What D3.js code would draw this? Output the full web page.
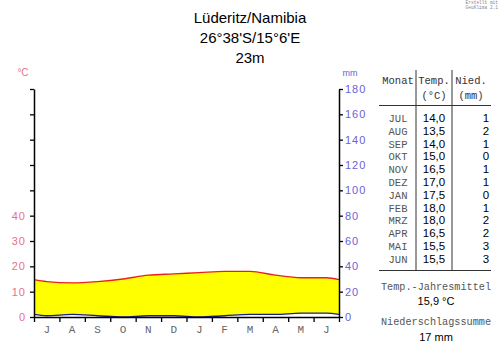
<!DOCTYPE html>
<html>
<head>
<meta charset="utf-8">
<script src="https://cdn.jsdelivr.net/npm/d3@7"></script>
<style>
  html, body { margin: 0; padding: 0; background: #fff; }
  svg { display: block; }
</style>
</head>
<body>
<svg id="chart" width="500" height="348"></svg>
<script>
// Klimadiagramm Lüderitz / Namibia
const months = ["JUL","AUG","SEP","OKT","NOV","DEZ","JAN","FEB","MRZ","APR","MAI","JUN"];
const monthInitials = ["J","A","S","O","N","D","J","F","M","A","M","J"];
const temperature = [14.0, 13.5, 14.0, 15.0, 16.5, 17.0, 17.5, 18.0, 18.0, 16.5, 15.5, 15.5];
const precipitation = [1, 2, 1, 0, 1, 1, 0, 1, 2, 2, 3, 3];
const tempTicks = [0, 10, 20, 30, 40, 50, 60, 70, 80, 90];
const tempTickLabels = [0, 10, 20, 30, 40];
const precipTicks = [0, 20, 40, 60, 80, 100, 120, 140, 160, 180];
const titleLines = ["Lüderitz/Namibia", "26°38'S/15°6'E", "23m"];
const annualMeanTemp = "15,9 °C";
const annualPrecip = "17 mm";

const fmt = v => v.toFixed(1).replace(".", ",");

const svg = d3.select("#chart");
const mono = "'Liberation Mono', 'DejaVu Sans Mono', monospace";
const sans = "'Liberation Sans', Arial, sans-serif";
const red = "#e8231c", pink = "#e8708a", blue = "#6a62d8", navy = "#1c1c8c";

const plotLeft = 34, plotRight = 339, plotTop = 89, plotBottom = 317;
const x = d3.scaleLinear().domain([0, 12]).range([plotLeft, plotRight]);
const yT = d3.scaleLinear().domain([0, 90]).range([plotBottom, plotTop]);
const yP = d3.scaleLinear().domain([0, 180]).range([plotBottom, plotTop]);

// Title
svg.append("g").selectAll("text").data(titleLines).join("text")
  .attr("x", 250).attr("y", (d, i) => 23 + i * 20)
  .attr("text-anchor", "middle")
  .attr("font-family", sans).attr("font-size", 15).attr("fill", "#000")
  .text(d => d);

// Small credit in corner
svg.append("g").selectAll("text").data(["Erstellt mit", "GeoKlima 2.1"]).join("text")
  .attr("x", 498).attr("y", (d, i) => 4 + i * 4.5)
  .attr("text-anchor", "end")
  .attr("font-family", mono).attr("font-size", 4.5).attr("fill", "#888")
  .text(d => d);

// Curves: monthly values at mid-months, edges closed with the Jun/Jul mean
function periodic(values) {
  const edge = (values[0] + values[values.length - 1]) / 2;
  return [[0, edge], ...values.map((v, i) => [i + 0.5, v]), [12, edge]];
}
const tPts = periodic(temperature);
const pPts = periodic(precipitation);

const area = d3.area()
  .curve(d3.curveMonotoneX)
  .x((d, i) => x(tPts[i][0]))
  .y0((d, i) => yP(pPts[i][1]))
  .y1((d, i) => yT(tPts[i][1]));
svg.append("path").datum(tPts).attr("d", area).attr("fill", "#ffff00");

const lineT = d3.line().curve(d3.curveMonotoneX).x(d => x(d[0])).y(d => yT(d[1]));
const lineP = d3.line().curve(d3.curveMonotoneX).x(d => x(d[0])).y(d => yP(d[1]));
svg.append("path").datum(tPts).attr("d", lineT).attr("fill", "none").attr("stroke", red).attr("stroke-width", 1.3);
svg.append("path").datum(pPts).attr("d", lineP).attr("fill", "none").attr("stroke", navy).attr("stroke-width", 1.3);

// Left axis (temperature)
const axL = svg.append("g").attr("transform", `translate(${plotLeft},0)`)
  .call(d3.axisLeft(yT).tickValues(tempTicks).tickSize(4).tickSizeOuter(0)
    .tickFormat(d => tempTickLabels.includes(d) ? d : ""));
axL.select(".domain").attr("stroke", "#000").attr("stroke-width", 1.5);
axL.selectAll(".tick line").attr("stroke", "#000").attr("stroke-width", 1.3);
axL.selectAll(".tick text").attr("fill", pink).attr("font-family", sans).attr("font-size", 11)
  .attr("x", -8).attr("letter-spacing", 1);

// Right axis (precipitation)
const axR = svg.append("g").attr("transform", `translate(${plotRight},0)`)
  .call(d3.axisRight(yP).tickValues(precipTicks).tickSize(4).tickSizeOuter(0));
axR.select(".domain").attr("stroke", "#000").attr("stroke-width", 1.5);
axR.selectAll(".tick line").attr("stroke", "#000").attr("stroke-width", 1.3);
axR.selectAll(".tick text").attr("fill", blue).attr("font-family", sans).attr("font-size", 11)
  .attr("x", 6).attr("letter-spacing", 1);

// Bottom axis (months)
const axB = svg.append("g").attr("transform", `translate(0,${plotBottom})`)
  .call(d3.axisBottom(x).tickValues(d3.range(0, 13)).tickSize(5).tickSizeOuter(0).tickFormat(""));
axB.select(".domain").attr("stroke", "#000").attr("stroke-width", 1.5);
axB.selectAll(".tick line").attr("stroke", "#000").attr("stroke-width", 1.3);
svg.append("g").selectAll("text").data(monthInitials).join("text")
  .attr("x", (d, i) => x(i + 0.5)).attr("y", 333)
  .attr("text-anchor", "middle")
  .attr("font-family", mono).attr("font-size", 11).attr("fill", "#666")
  .text(d => d);

// Unit labels
svg.append("text").attr("x", 23).attr("y", 76).attr("text-anchor", "middle")
  .attr("font-family", sans).attr("font-size", 10).attr("fill", pink).text("°C");
svg.append("text").attr("x", 350).attr("y", 76).attr("text-anchor", "middle")
  .attr("font-family", sans).attr("font-size", 9).attr("fill", blue).text("mm");

// Table
const tbl = svg.append("g");
const colMonth = 398, colTemp = 434, colNied = 471, colPrec = 486;
const sep1 = 416, sep2 = 452;
const headerSize = 10.5, cellMono = 10.5, summarySize = 10.2;
tbl.append("text").attr("x", colMonth).attr("y", 84).attr("text-anchor", "middle")
  .attr("font-family", mono).attr("font-size", headerSize).attr("fill", "#333").text("Monat");
tbl.append("text").attr("x", colTemp).attr("y", 84).attr("text-anchor", "middle")
  .attr("font-family", mono).attr("font-size", headerSize).attr("fill", "#333").text("Temp.");
tbl.append("text").attr("x", colNied).attr("y", 84).attr("text-anchor", "middle")
  .attr("font-family", mono).attr("font-size", headerSize).attr("fill", "#333").text("Nied.");
tbl.append("text").attr("x", colTemp).attr("y", 99).attr("text-anchor", "middle")
  .attr("font-family", mono).attr("font-size", headerSize).attr("fill", "#333").text("(°C)");
tbl.append("text").attr("x", colNied).attr("y", 99).attr("text-anchor", "middle")
  .attr("font-family", mono).attr("font-size", headerSize).attr("fill", "#333").text("(mm)");

tbl.append("line").attr("x1", sep1).attr("x2", sep1).attr("y1", 70).attr("y2", 271).attr("stroke", "#333");
tbl.append("line").attr("x1", sep2).attr("x2", sep2).attr("y1", 70).attr("y2", 271).attr("stroke", "#333");
tbl.append("line").attr("x1", 379).attr("x2", 491).attr("y1", 105.5).attr("y2", 105.5).attr("stroke", "#333");
tbl.append("line").attr("x1", 379).attr("x2", 491).attr("y1", 270.5).attr("y2", 270.5).attr("stroke", "#333");

const rowY = i => 122 + i * 12.8;
tbl.append("g").selectAll("text").data(months).join("text")
  .attr("x", colMonth).attr("y", (d, i) => rowY(i)).attr("text-anchor", "middle")
  .attr("font-family", mono).attr("font-size", cellMono).attr("fill", "#555").text(d => d);
tbl.append("g").selectAll("text").data(temperature).join("text")
  .attr("x", colTemp).attr("y", (d, i) => rowY(i)).attr("text-anchor", "middle")
  .attr("font-family", sans).attr("font-size", 11.5).attr("fill", "#000").text(d => fmt(d));
tbl.append("g").selectAll("text").data(precipitation).join("text")
  .attr("x", colPrec).attr("y", (d, i) => rowY(i)).attr("text-anchor", "middle")
  .attr("font-family", sans).attr("font-size", 11.5).attr("fill", "#000").text(d => d);

// Annual summary
tbl.append("text").attr("x", 436).attr("y", 290).attr("text-anchor", "middle")
  .attr("font-family", mono).attr("font-size", summarySize).attr("fill", "#555").text("Temp.-Jahresmittel");
tbl.append("text").attr("x", 436).attr("y", 305).attr("text-anchor", "middle")
  .attr("font-family", sans).attr("font-size", 11).attr("fill", "#000").text(annualMeanTemp);
tbl.append("text").attr("x", 436).attr("y", 325).attr("text-anchor", "middle")
  .attr("font-family", mono).attr("font-size", summarySize).attr("fill", "#555").text("Niederschlagssumme");
tbl.append("text").attr("x", 436).attr("y", 341).attr("text-anchor", "middle")
  .attr("font-family", sans).attr("font-size", 11).attr("fill", "#000").text(annualPrecip);
</script>
</body>
</html>
